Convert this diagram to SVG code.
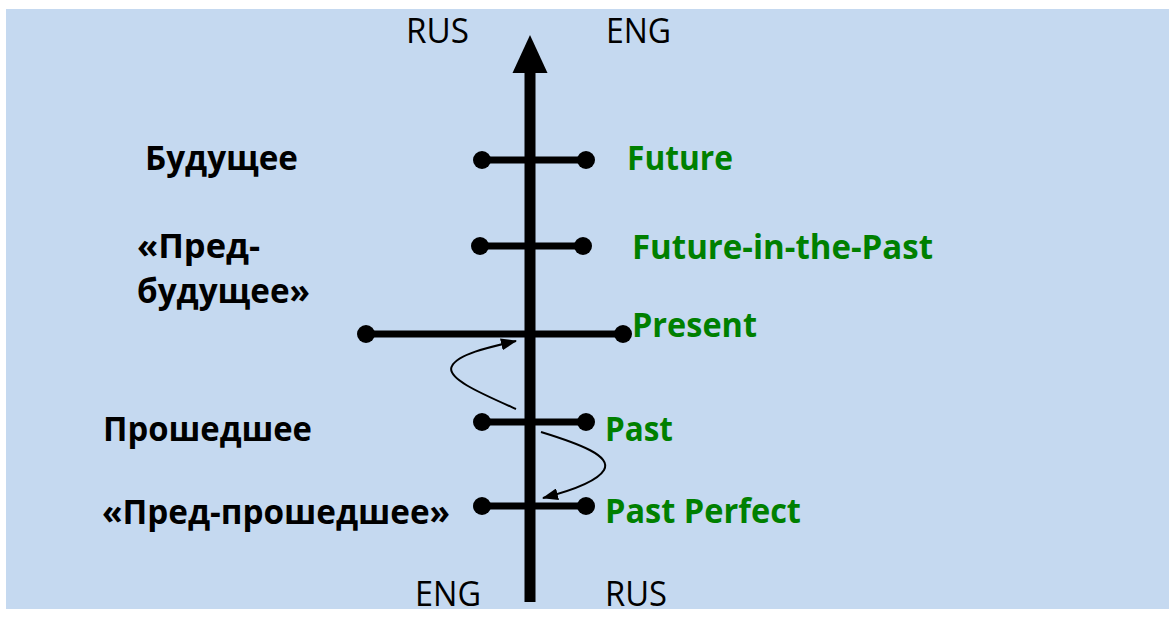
<svg xmlns="http://www.w3.org/2000/svg" width="1169" height="617" viewBox="0 0 1169 617">
<style>
.lbl{font-family:"Open Sans","Noto Sans","Liberation Sans",sans-serif;font-size:34px;}
.ru{font-weight:bold;fill:#000;}
.en{font-weight:bold;fill:#008000;}
.ax{fill:#000;}
.bar{stroke:#000;stroke-width:7;fill:none;}
.dot{fill:#000;}
.cur{stroke:#000;stroke-width:2;fill:none;marker-end:url(#ah);}
</style>
<defs>
<marker id="ah" markerWidth="16" markerHeight="12" refX="15" refY="6" orient="auto" markerUnits="userSpaceOnUse">
<path d="M0,0 L16,6 L0,12 z" fill="#000"/>
</marker>
</defs>
<rect x="0" y="0" width="1169" height="617" fill="#ffffff"/>
<rect x="6" y="9" width="1163" height="600" fill="#c5d9f0"/>
<g id="axis">
<rect class="ax" x="524.5" y="70" width="11" height="532"/>
<path class="ax" d="M530,35 L547.5,73 L512.5,73 z"/>
<text class="lbl" x="406" y="43" textLength="63" lengthAdjust="spacingAndGlyphs">RUS</text>
<text class="lbl" x="606" y="43" textLength="65" lengthAdjust="spacingAndGlyphs">ENG</text>
<text class="lbl" x="415" y="606" textLength="66" lengthAdjust="spacingAndGlyphs">ENG</text>
<text class="lbl" x="605" y="606" textLength="62" lengthAdjust="spacingAndGlyphs">RUS</text>
</g>
<g id="future">
<line class="bar" x1="482" y1="160" x2="586" y2="160"/>
<circle class="dot" cx="482" cy="160" r="9"/>
<circle class="dot" cx="586" cy="160" r="9"/>
<text class="lbl ru" x="145" y="170" textLength="153" lengthAdjust="spacingAndGlyphs">Будущее</text>
<text class="lbl en" x="627" y="170" textLength="106" lengthAdjust="spacingAndGlyphs">Future</text>
</g>
<g id="future-in-the-past">
<line class="bar" x1="480" y1="246" x2="583" y2="246"/>
<circle class="dot" cx="480" cy="246" r="9"/>
<circle class="dot" cx="583" cy="246" r="9"/>
<text class="lbl ru" x="137" y="258" textLength="123" lengthAdjust="spacingAndGlyphs">«Пред-</text>
<text class="lbl ru" x="137" y="303" textLength="173" lengthAdjust="spacingAndGlyphs">будущее»</text>
<text class="lbl en" x="632" y="259" textLength="301" lengthAdjust="spacingAndGlyphs">Future-in-the-Past</text>
</g>
<g id="present">
<line class="bar" x1="366" y1="334" x2="623" y2="334"/>
<circle class="dot" cx="366" cy="334" r="9"/>
<circle class="dot" cx="623" cy="334" r="9"/>
<text class="lbl en" x="632" y="337" textLength="125" lengthAdjust="spacingAndGlyphs">Present</text>
</g>
<g id="past">
<line class="bar" x1="482" y1="422" x2="586" y2="422"/>
<circle class="dot" cx="482" cy="422" r="9"/>
<circle class="dot" cx="586" cy="422" r="9"/>
<text class="lbl ru" x="103" y="441" textLength="209" lengthAdjust="spacingAndGlyphs">Прошедшее</text>
<text class="lbl en" x="605" y="441" textLength="68" lengthAdjust="spacingAndGlyphs">Past</text>
</g>
<g id="past-perfect">
<line class="bar" x1="482" y1="506" x2="586" y2="506"/>
<circle class="dot" cx="482" cy="506" r="9"/>
<circle class="dot" cx="586" cy="506" r="9"/>
<text class="lbl ru" x="102" y="524" textLength="348" lengthAdjust="spacingAndGlyphs">«Пред-прошедшее»</text>
<text class="lbl en" x="605" y="523" textLength="196" lengthAdjust="spacingAndGlyphs">Past Perfect</text>
</g>
<g id="connectors">
<path class="cur" d="M516,409 C480,393 445,378 452,366 C458,354 490,347 516,341"/>
<path class="cur" d="M541,432 C580,444 612,456 604,470 C597,482 570,491 543,498"/>
</g>
</svg>
